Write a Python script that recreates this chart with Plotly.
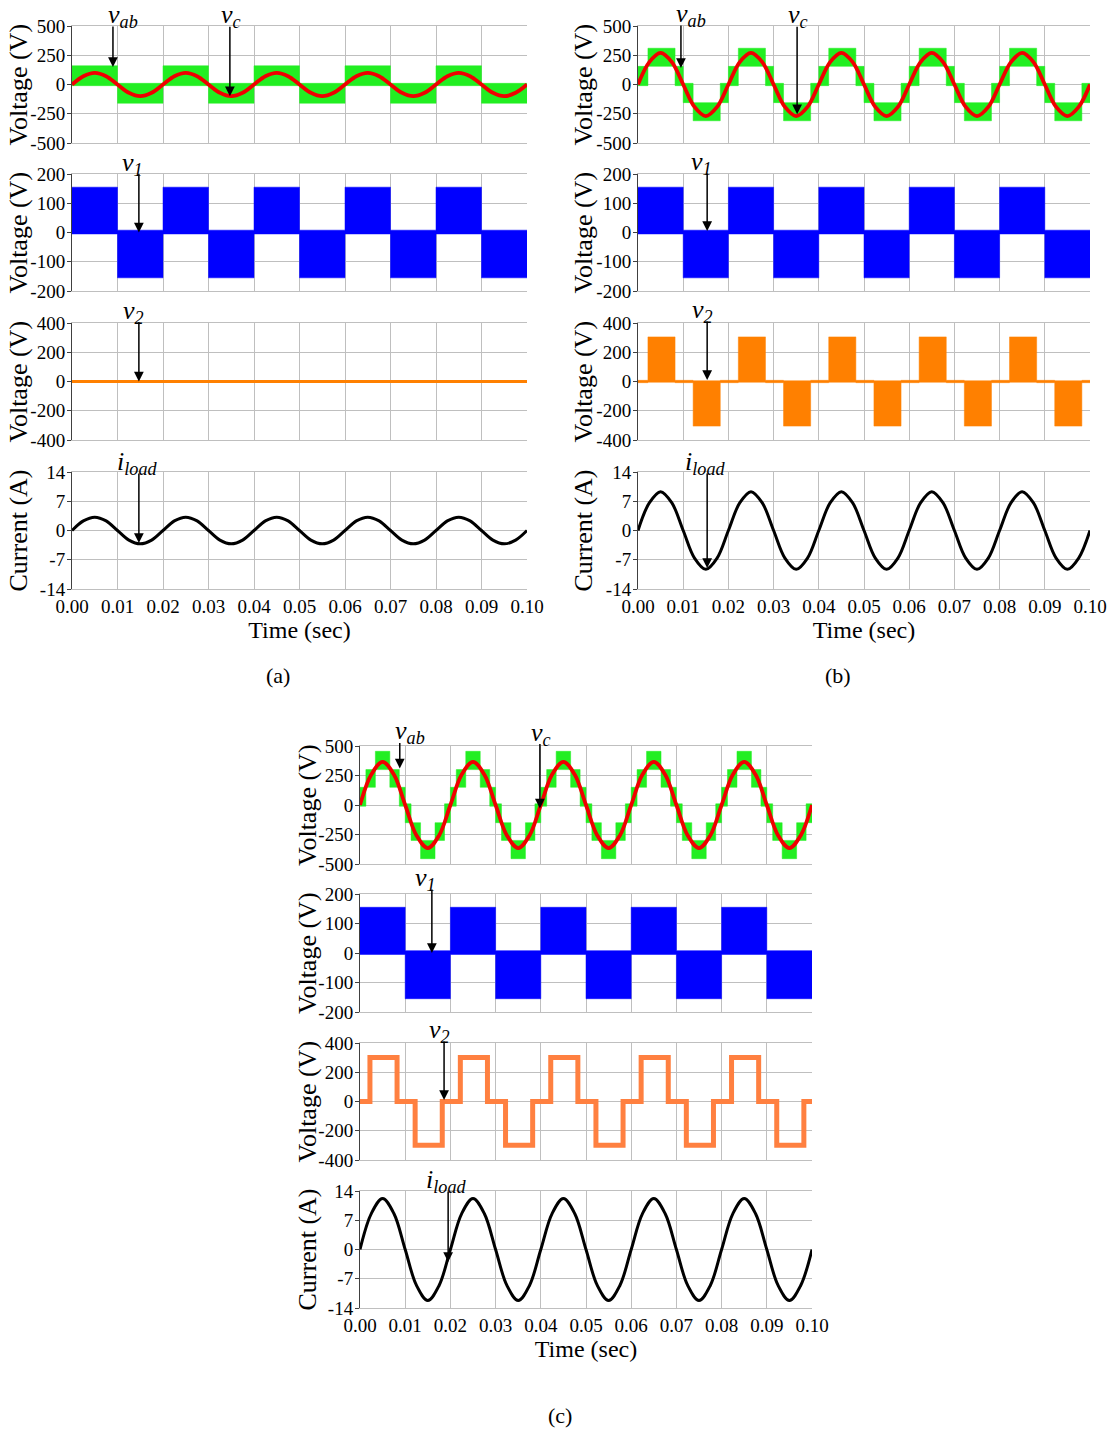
import plotly.graph_objects as go

# ------------------------------------------------------------------ data
# sample times (s) for the smooth waveforms
T_SINE = [0.0000, 0.0025, 0.0050, 0.0075, 0.0100, 0.0125, 0.0150, 0.0175,
          0.0200, 0.0225, 0.0250, 0.0275, 0.0300, 0.0325, 0.0350, 0.0375,
          0.0400, 0.0425, 0.0450, 0.0475, 0.0500, 0.0525, 0.0550, 0.0575,
          0.0600, 0.0625, 0.0650, 0.0675, 0.0700, 0.0725, 0.0750, 0.0775,
          0.0800, 0.0825, 0.0850, 0.0875, 0.0900, 0.0925, 0.0950, 0.0975,
          0.1000]

# control voltage v_c (V)
VC_A = [0, 71, 100, 71, 0, -71, -100, -71, 0, 71, 100, 71, 0, -71, -100, -71,
        0, 71, 100, 71, 0, -71, -100, -71, 0, 71, 100, 71, 0, -71, -100, -71,
        0, 71, 100, 71, 0, -71, -100, -71, 0]
VC_B = [0, 191, 270, 191, 0, -191, -270, -191, 0, 191, 270, 191, 0, -191, -270, -191,
        0, 191, 270, 191, 0, -191, -270, -191, 0, 191, 270, 191, 0, -191, -270, -191,
        0, 191, 270, 191, 0, -191, -270, -191, 0]
VC_C = [0, 258, 365, 258, 0, -258, -365, -258, 0, 258, 365, 258, 0, -258, -365, -258,
        0, 258, 365, 258, 0, -258, -365, -258, 0, 258, 365, 258, 0, -258, -365, -258,
        0, 258, 365, 258, 0, -258, -365, -258, 0]

# load current i_load (A)
IL_A = [0, 2.3, 3.2, 2.3, 0, -2.3, -3.2, -2.3, 0, 2.3, 3.2, 2.3, 0, -2.3, -3.2, -2.3,
        0, 2.3, 3.2, 2.3, 0, -2.3, -3.2, -2.3, 0, 2.3, 3.2, 2.3, 0, -2.3, -3.2, -2.3,
        0, 2.3, 3.2, 2.3, 0, -2.3, -3.2, -2.3, 0]
IL_B = [0, 6.6, 9.3, 6.6, 0, -6.6, -9.3, -6.6, 0, 6.6, 9.3, 6.6, 0, -6.6, -9.3, -6.6,
        0, 6.6, 9.3, 6.6, 0, -6.6, -9.3, -6.6, 0, 6.6, 9.3, 6.6, 0, -6.6, -9.3, -6.6,
        0, 6.6, 9.3, 6.6, 0, -6.6, -9.3, -6.6, 0]
IL_C = [0, 8.6, 12.2, 8.6, 0, -8.6, -12.2, -8.6, 0, 8.6, 12.2, 8.6, 0, -8.6, -12.2, -8.6,
        0, 8.6, 12.2, 8.6, 0, -8.6, -12.2, -8.6, 0, 8.6, 12.2, 8.6, 0, -8.6, -12.2, -8.6,
        0, 8.6, 12.2, 8.6, 0, -8.6, -12.2, -8.6, 0]

# half-cycle switching instants (s)
EDGES_HALF = [0.00, 0.01, 0.02, 0.03, 0.04, 0.05, 0.06, 0.07, 0.08, 0.09, 0.10]

# v1 PWM envelope (low / high of the switching band), same in (a), (b), (c)
V1_LO = [-5, -155, -5, -155, -5, -155, -5, -155, -5, -155]
V1_HI = [155, 8, 155, 8, 155, 8, 155, 8, 155, 8]

# (a) v_ab envelope
VAB_A_LO = [-10, -160, -10, -160, -10, -160, -10, -160, -10, -160]
VAB_A_HI = [160, 10, 160, 10, 160, 10, 160, 10, 160, 10]

# (a) v2 (idle)
V2_A_T = [0.0, 0.1]
V2_A = [0, 0]

# (b) v_ab envelope (three-level)
VAB_B_EDGES = [0.0000, 0.0022, 0.0082, 0.0100, 0.0122, 0.0182,
               0.0200, 0.0222, 0.0282, 0.0300, 0.0322, 0.0382,
               0.0400, 0.0422, 0.0482, 0.0500, 0.0522, 0.0582,
               0.0600, 0.0622, 0.0682, 0.0700, 0.0722, 0.0782,
               0.0800, 0.0822, 0.0882, 0.0900, 0.0922, 0.0982, 0.1000]
VAB_B_LO = [-10, 155, -10, -155, -310, -155,
            -10, 155, -10, -155, -310, -155,
            -10, 155, -10, -155, -310, -155,
            -10, 155, -10, -155, -310, -155,
            -10, 155, -10, -155, -310, -155]
VAB_B_HI = [155, 310, 155, 10, -155, 10,
            155, 310, 155, 10, -155, 10,
            155, 310, 155, 10, -155, 10,
            155, 310, 155, 10, -155, 10,
            155, 310, 155, 10, -155, 10]

# v2 switching instants for (b) and (c)
V2_EDGES = [0.0000, 0.0022, 0.0082, 0.0122, 0.0182,
            0.0222, 0.0282, 0.0322, 0.0382,
            0.0422, 0.0482, 0.0522, 0.0582,
            0.0622, 0.0682, 0.0722, 0.0782,
            0.0822, 0.0882, 0.0922, 0.0982, 0.1000]
V2_B_LO = [-8, -5, -8, -305, -8, -5, -8, -305, -8, -5, -8, -305,
           -8, -5, -8, -305, -8, -5, -8, -305, -8]
V2_B_HI = [8, 305, 8, 5, 8, 305, 8, 5, 8, 305, 8, 5,
           8, 305, 8, 5, 8, 305, 8, 5, 8]
V2_C = [0, 300, 0, -300, 0, 300, 0, -300, 0, 300, 0, -300,
        0, 300, 0, -300, 0, 300, 0, -300, 0]

# (c) v_ab envelope (four-level staircase)
VAB_C_EDGES = [0.0000, 0.0013, 0.0034, 0.0066, 0.0087,
               0.0100, 0.0113, 0.0134, 0.0166, 0.0187,
               0.0200, 0.0213, 0.0234, 0.0266, 0.0287,
               0.0300, 0.0313, 0.0334, 0.0366, 0.0387,
               0.0400, 0.0413, 0.0434, 0.0466, 0.0487,
               0.0500, 0.0513, 0.0534, 0.0566, 0.0587,
               0.0600, 0.0613, 0.0634, 0.0666, 0.0687,
               0.0700, 0.0713, 0.0734, 0.0766, 0.0787,
               0.0800, 0.0813, 0.0834, 0.0866, 0.0887,
               0.0900, 0.0913, 0.0934, 0.0966, 0.0987, 0.1000]
VAB_C_LO = [-10, 150, 300, 150, -10, -150, -300, -455, -300, -150,
            -10, 150, 300, 150, -10, -150, -300, -455, -300, -150,
            -10, 150, 300, 150, -10, -150, -300, -455, -300, -150,
            -10, 150, 300, 150, -10, -150, -300, -455, -300, -150,
            -10, 150, 300, 150, -10, -150, -300, -455, -300, -150]
VAB_C_HI = [150, 300, 455, 300, 150, 10, -150, -300, -150, 10,
            150, 300, 455, 300, 150, 10, -150, -300, -150, 10,
            150, 300, 455, 300, 150, 10, -150, -300, -150, 10,
            150, 300, 455, 300, 150, 10, -150, -300, -150, 10,
            150, 300, 455, 300, 150, 10, -150, -300, -150, 10]

# axes ticks
X_TICKS = [0.00, 0.01, 0.02, 0.03, 0.04, 0.05, 0.06, 0.07, 0.08, 0.09, 0.10]
X_TICK_LABELS = ["0.00", "0.01", "0.02", "0.03", "0.04", "0.05",
                 "0.06", "0.07", "0.08", "0.09", "0.10"]
Y_TICKS = [
    ([-500, -250, 0, 250, 500], ["-500", "-250", "0", "250", "500"], "Voltage (V)"),
    ([-200, -100, 0, 100, 200], ["-200", "-100", "0", "100", "200"], "Voltage (V)"),
    ([-400, -200, 0, 200, 400], ["-400", "-200", "0", "200", "400"], "Voltage (V)"),
    ([-14, -7, 0, 7, 14], ["-14", "-7", "0", "7", "14"], "Current (A)"),
]

# ------------------------------------------------------------------ layout geometry (pixels)
W, H = 1119, 1430
PANEL_X = [(72, 527), (638, 1090), (360, 812)]
ROWS_AB = [(26, 143), (174, 291), (323, 440), (472, 589)]
ROWS_C = [(746, 864), (894, 1012), (1043, 1160), (1191, 1308)]
PANEL_ROWS = [ROWS_AB, ROWS_AB, ROWS_C]
YTITLE_X = [18, 583, 307]   # centre of the rotated y-axis titles

FONT = "Liberation Serif"
GREEN = "#22EE22"
RED = "#F00000"
BLUE = "#0000FF"
ORANGE_B = "#FF8000"
ORANGE_C = "#FF8040"
GRID = "#BFBFBF"

fig = go.Figure()


def ax_names(p, r):
    k = p * 4 + r + 1
    s = "" if k == 1 else str(k)
    return "x" + s, "y" + s, "xaxis" + s, "yaxis" + s


def add_band(p, r, edges, lo, hi, color):
    xa, ya, _, _ = ax_names(p, r)
    ylo = list(lo) + [lo[-1]]
    yhi = list(hi) + [hi[-1]]
    fig.add_trace(go.Scatter(x=edges, y=ylo, mode="lines", xaxis=xa, yaxis=ya,
                             line=dict(width=0.5, color=color, shape="hv"),
                             hoverinfo="skip", showlegend=False))
    fig.add_trace(go.Scatter(x=edges, y=yhi, mode="lines", xaxis=xa, yaxis=ya,
                             line=dict(width=0.5, color=color, shape="hv"),
                             fill="tonexty", fillcolor=color,
                             hoverinfo="skip", showlegend=False))


def add_line(p, r, x, y, color, width, shape="spline"):
    xa, ya, _, _ = ax_names(p, r)
    fig.add_trace(go.Scatter(x=x, y=y, mode="lines", xaxis=xa, yaxis=ya,
                             line=dict(width=width, color=color, shape=shape),
                             hoverinfo="skip", showlegend=False))


# panel (a)
add_band(0, 0, EDGES_HALF, VAB_A_LO, VAB_A_HI, GREEN)
add_line(0, 0, T_SINE, VC_A, RED, 3.8)
add_band(0, 1, EDGES_HALF, V1_LO, V1_HI, BLUE)
add_line(0, 2, V2_A_T, V2_A, ORANGE_B, 3, shape="linear")
add_line(0, 3, T_SINE, IL_A, "#000000", 3)

# panel (b)
add_band(1, 0, VAB_B_EDGES, VAB_B_LO, VAB_B_HI, GREEN)
add_line(1, 0, T_SINE, VC_B, RED, 3.8)
add_band(1, 1, EDGES_HALF, V1_LO, V1_HI, BLUE)
add_band(1, 2, V2_EDGES, V2_B_LO, V2_B_HI, ORANGE_B)
add_line(1, 3, T_SINE, IL_B, "#000000", 3)

# panel (c)
add_band(2, 0, VAB_C_EDGES, VAB_C_LO, VAB_C_HI, GREEN)
add_line(2, 0, T_SINE, VC_C, RED, 3.8)
add_band(2, 1, EDGES_HALF, V1_LO, V1_HI, BLUE)
add_line(2, 2, V2_EDGES, V2_C + [V2_C[-1]], ORANGE_C, 5, shape="hv")
add_line(2, 3, T_SINE, IL_C, "#000000", 3)

annotations = []

# axes
layout_axes = {}
for p in range(3):
    x0, x1 = PANEL_X[p]
    for r in range(4):
        y0, y1 = PANEL_ROWS[p][r]
        xa, ya, xk, yk = ax_names(p, r)
        tv, tt, title = Y_TICKS[r]
        xaxis = dict(domain=[x0 / W, x1 / W], anchor=ya, range=[0, 0.1],
                     automargin=False,
                     tickvals=X_TICKS, ticktext=X_TICK_LABELS,
                     showticklabels=(r == 3), ticks="",
                     showgrid=True, gridcolor=GRID, gridwidth=1,
                     zeroline=False, showline=True, mirror=True,
                     linecolor=GRID, linewidth=1,
                     tickfont=dict(family=FONT, size=19, color="black"))
        if r == 3:
            xaxis["title"] = dict(text="Time (sec)", standoff=2,
                                  font=dict(family=FONT, size=24, color="black"))
        yaxis = dict(domain=[1 - y1 / H, 1 - y0 / H], anchor=xa,
                     automargin=False,
                     range=[tv[0], tv[-1]], tickvals=tv, ticktext=tt,
                     ticks="outside", ticklen=4, tickcolor="#404040",
                     ticklabelstandoff=-2,
                     showgrid=True, gridcolor=GRID, gridwidth=1,
                     zeroline=False, showline=True, linecolor="#404040",
                     linewidth=1,
                     tickfont=dict(family=FONT, size=19, color="black"))
        layout_axes[xk] = xaxis
        layout_axes[yk] = yaxis
        # rotated y-axis title
        annotations.append(dict(x=YTITLE_X[p] / W, y=1 - (y0 + y1) / 2 / H,
                                xref="paper", yref="paper", text=title,
                                textangle=-90, showarrow=False,
                                xanchor="center", yanchor="middle",
                                font=dict(family=FONT, size=26, color="black")))

# signal labels with arrows: (panel, row, t_tip, value_tip, arrow length px, label, dx)
LABELS = [
    (0, 0, 0.0090, 150, 42, "<i>v</i><sub><i>ab</i></sub>", 10),
    (0, 0, 0.0347, -100, 71, "<i>v</i><sub><i>c</i></sub>", 1),
    (0, 1, 0.0147, 0, 60, "<i>v</i><sub><i>1</i></sub>", -6),
    (0, 2, 0.0147, 0, 61, "<i>v</i><sub><i>2</i></sub>", -5),
    (0, 3, 0.0147, -3, 71, "<i>i</i><sub><i>load</i></sub>", -2),
    (1, 0, 0.0095, 140, 44, "<i>v</i><sub><i>ab</i></sub>", 10),
    (1, 0, 0.0352, -255, 89, "<i>v</i><sub><i>c</i></sub>", 1),
    (1, 1, 0.0153, 5, 59, "<i>v</i><sub><i>1</i></sub>", -6),
    (1, 2, 0.0153, 10, 60, "<i>v</i><sub><i>2</i></sub>", -5),
    (1, 3, 0.0153, -9, 96, "<i>i</i><sub><i>load</i></sub>", -2),
    (2, 0, 0.0088, 310, 27, "<i>v</i><sub><i>ab</i></sub>", 10),
    (2, 0, 0.0398, -30, 66, "<i>v</i><sub><i>c</i></sub>", 1),
    (2, 1, 0.0159, 0, 65, "<i>v</i><sub><i>1</i></sub>", -6),
    (2, 2, 0.0186, 10, 60, "<i>v</i><sub><i>2</i></sub>", -5),
    (2, 3, 0.0195, -3, 72, "<i>i</i><sub><i>load</i></sub>", -2),
]

for p, r, t, v, L, txt, dx in LABELS:
    xa, ya, _, _ = ax_names(p, r)
    annotations.append(dict(x=t, y=v, xref=xa, yref=ya, text="", showarrow=True,
                            ax=0, ay=-L, arrowhead=2, arrowsize=1.3,
                            arrowwidth=1.5, arrowcolor="black", standoff=0,
                            startstandoff=0))
    annotations.append(dict(x=t, y=v, xref=xa, yref=ya, text=txt, showarrow=False,
                            xanchor="center", yanchor="bottom", xshift=dx,
                            yshift=L - 9,
                            font=dict(family=FONT, size=26, color="black")))

# panel captions
for txt, px, py in [("(a)", 278, 675), ("(b)", 838, 675), ("(c)", 560, 1415)]:
    annotations.append(dict(x=px / W, y=1 - py / H, xref="paper", yref="paper",
                            text=txt, showarrow=False, xanchor="center",
                            yanchor="middle",
                            font=dict(family=FONT, size=22, color="black")))

fig.update_layout(width=W, height=H, margin=dict(l=0, r=0, t=0, b=0),
                  paper_bgcolor="white", plot_bgcolor="white",
                  showlegend=False, annotations=annotations, **layout_axes)

fig.write_html("out.html",
               config={"displayModeBar": False},
               post_script="document.body.style.margin='0px';"
                           "document.body.style.overflow='hidden';")
